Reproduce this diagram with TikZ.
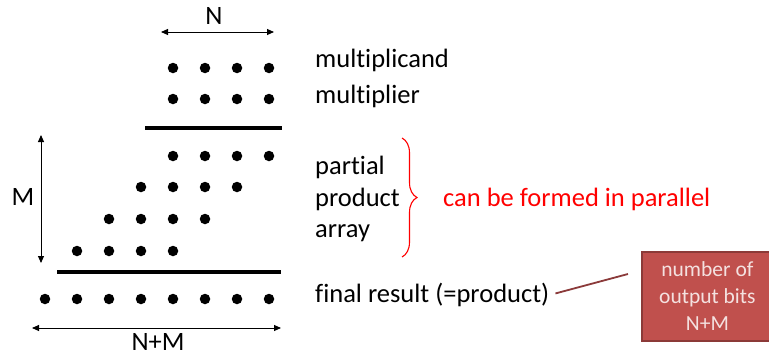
\documentclass[tikz,border=0pt]{standalone}
\usepackage{fontspec}
\setmainfont[Ligatures=NoCommon]{Carlito}
\usetikzlibrary{arrows.meta,decorations.pathreplacing}
\definecolor{boxred}{HTML}{C0504D}
\definecolor{boxedge}{HTML}{8C3A38}
\definecolor{linkred}{HTML}{8B3A3A}
\definecolor{boxtext}{HTML}{F4E1E0}
\tikzset{
  bit/.style={circle,fill=black,inner sep=0pt,minimum size=10.5pt},
  bar/.style={line width=3.6pt},
  dim/.style={line width=0.9pt,{Triangle[length=7pt,width=6pt]}-{Triangle[length=7pt,width=6pt]}},
  lbl/.style={font=\fontsize{26.5}{31}\selectfont,inner sep=0pt,anchor=base west},
  dimlbl/.style={font=\fontsize{26.5}{31}\selectfont,inner sep=0pt,anchor=base},
}
\begin{document}
\begin{tikzpicture}[x=1pt,y=-1pt]
\useasboundingbox (0,0) rectangle (769,356);
% multiplicand / multiplier / first partial row
\foreach \r/\y in {a/68,b/99,c/156}{
  \foreach \i/\x in {1/173,2/205,3/237,4/269}{
    \node[bit] (\r\i) at (\x,\y) {};
  }
}
\foreach \i/\x in {1/141,2/173,3/205,4/237}{\node[bit] (d\i) at (\x,187) {};}
\foreach \i/\x in {1/109,2/141,3/173,4/205}{\node[bit] (e\i) at (\x,219) {};}
\foreach \i/\x in {1/77,2/109,3/141,4/173}{\node[bit] (f\i) at (\x,251) {};}
\foreach \i/\x in {1/45,2/77,3/109,4/141,5/173,6/205,7/237,8/269}{\node[bit] (g\i) at (\x,299) {};}
% bars
\coordinate (b1l) at (145,128); \coordinate (b1r) at (282,128);
\coordinate (b2l) at (57,272);  \coordinate (b2r) at (281,272);
\draw[bar] (b1l) -- (b1r);
\draw[bar] (b2l) -- (b2r);
% N dimension
\coordinate (nl) at (161,32); \coordinate (nr) at (274,32);
\draw[dim] (nl) -- (nr);
\node[dimlbl] (N) at (214,24) {N};
% M dimension
\coordinate (mt) at (41,135); \coordinate (mb) at (41,263);
\draw[dim] (mt) -- (mb);
\node[dimlbl] (M) at (23,205) {M};
% N+M dimension
\coordinate (ql) at (32,328); \coordinate (qr) at (281,328);
\draw[dim] (ql) -- (qr);
\node[dimlbl] (NM) at (158,350) {N+M};
% labels
\node[lbl] (mcand) at (315,67) {multiplicand};
\node[lbl] (mplier) at (315,103) {multiplier};
\node[lbl] (partial) at (315,174) {partial};
\node[lbl] (product) at (315,206) {product};
\node[lbl] (array) at (315,237) {array};
\node[lbl] (final) at (315,302) {final result (=product)};
% brace
\coordinate (brt) at (402,138); \coordinate (brb) at (402,257);
\draw[red,line width=1.1pt,decorate,decoration={brace,amplitude=15pt,aspect=0.5}] (brt) -- (brb);
\node[lbl,red] (par) at (443,206) {can be formed in parallel};
% box
\node[draw=boxedge,fill=boxred,line width=1.8pt,minimum width=131pt,minimum height=89pt,anchor=north west,inner sep=0pt,
  text=boxtext,font=\fontsize{21.5}{27}\selectfont,align=center] (box) at (641,251)
  {number of\\output bits\\N+M};
\coordinate (lend) at (628,274);
\draw[linkred,line width=1.8pt] ([xshift=6pt,yshift=1pt]final.east) -- (lend);
\end{tikzpicture}
\end{document}
